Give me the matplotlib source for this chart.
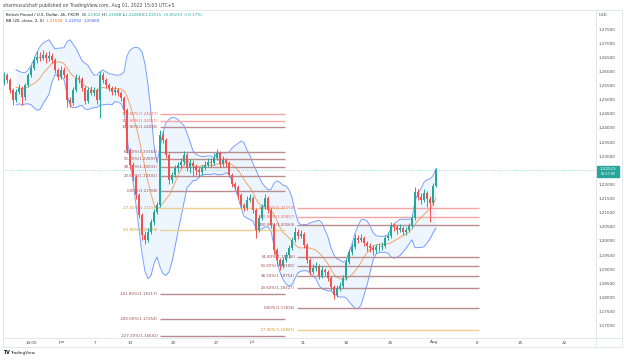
import matplotlib.pyplot as plt
import numpy as np
import pandas as pd
from matplotlib.patches import Rectangle

# GBPUSD 4h candles (each drawn candle covers two 4h bars)
closes = [1.2587, 1.2570, 1.2534, 1.2499, 1.2527, 1.2541, 1.2509, 1.2552, 1.2587, 1.2612,
          1.2640, 1.2651, 1.2647, 1.2658, 1.2647, 1.2654, 1.2640, 1.2605, 1.2580, 1.2605,
          1.2587, 1.2499, 1.2488, 1.2534, 1.2577, 1.2573, 1.2541, 1.2495, 1.2534, 1.2524,
          1.2534, 1.2499, 1.2587, 1.2570, 1.2552, 1.2541, 1.2527, 1.2534, 1.2524, 1.2506,
          1.2463, 1.2322, 1.2269, 1.2226, 1.2163, 1.2092, 1.2021, 1.2003, 1.2032, 1.2067,
          1.2102, 1.2127, 1.2375, 1.2357, 1.2304, 1.2216, 1.2233, 1.2258, 1.2269, 1.2279,
          1.2304, 1.2258, 1.2276, 1.2265, 1.2251, 1.2244, 1.2258, 1.2269, 1.2279, 1.2276,
          1.2294, 1.2311, 1.2272, 1.2286, 1.2276, 1.2233, 1.2202, 1.2191, 1.2163, 1.2127,
          1.2117, 1.2145, 1.2152, 1.2110, 1.2039, 1.2081, 1.2120, 1.2152, 1.2110, 1.2056,
          1.1968, 1.1933, 1.1911, 1.1933, 1.1950, 1.1975, 1.2003, 1.2032, 1.2018, 1.2025,
          1.1986, 1.1933, 1.1890, 1.1904, 1.1911, 1.1876, 1.1897, 1.1890, 1.1869, 1.1837,
          1.1809, 1.1834, 1.1841, 1.1869, 1.1926, 1.1961, 1.1979, 1.2010, 1.2003, 1.2010,
          1.1993, 1.1982, 1.1975, 1.1968, 1.1979, 1.1979, 1.1982, 1.2010, 1.2018, 1.2056,
          1.2049, 1.2039, 1.2046, 1.2032, 1.2039, 1.2053, 1.2081, 1.2173, 1.2156, 1.2145,
          1.2170, 1.2150, 1.2135, 1.2195, 1.2252]
highs = [1.2598, 1.2596, 1.2578, 1.2540, 1.2538, 1.2556, 1.2548, 1.2560, 1.2596, 1.2622,
         1.2655, 1.2672, 1.2668, 1.2676, 1.2668, 1.2672, 1.2665, 1.2648, 1.2612, 1.2618,
         1.2615, 1.2594, 1.2510, 1.2545, 1.2590, 1.2588, 1.2580, 1.2548, 1.2545, 1.2548,
         1.2545, 1.2540, 1.2600, 1.2598, 1.2578, 1.2560, 1.2550, 1.2548, 1.2542, 1.2530,
         1.2512, 1.2470, 1.2330, 1.2280, 1.2235, 1.2170, 1.2100, 1.2035, 1.2045, 1.2078,
         1.2112, 1.2138, 1.2393, 1.2390, 1.2365, 1.2310, 1.2245, 1.2268, 1.2280, 1.2292,
         1.2318, 1.2312, 1.2290, 1.2285, 1.2272, 1.2262, 1.2270, 1.2282, 1.2295, 1.2292,
         1.2310, 1.2325, 1.2318, 1.2300, 1.2295, 1.2282, 1.2240, 1.2210, 1.2198, 1.2170,
         1.2135, 1.2158, 1.2165, 1.2160, 1.2118, 1.2092, 1.2130, 1.2165, 1.2160, 1.2118,
         1.2062, 1.1975, 1.1940, 1.1945, 1.1962, 1.1985, 1.2015, 1.2050, 1.2042, 1.2038,
         1.2032, 1.1992, 1.1940, 1.1918, 1.1925, 1.1918, 1.1910, 1.1905, 1.1898, 1.1875,
         1.1845, 1.1845, 1.1855, 1.1880, 1.1935, 1.1972, 1.1992, 1.2025, 1.2022, 1.2025,
         1.2018, 1.2000, 1.1992, 1.1985, 1.1990, 1.1992, 1.1995, 1.2022, 1.2032, 1.2068,
         1.2065, 1.2055, 1.2060, 1.2052, 1.2050, 1.2065, 1.2092, 1.2191, 1.2185, 1.2170,
         1.2185, 1.2178, 1.2160, 1.2205, 1.2259]
lows = [1.2552, 1.2560, 1.2522, 1.2481, 1.2490, 1.2519, 1.2481, 1.2500, 1.2545, 1.2580,
        1.2605, 1.2630, 1.2636, 1.2640, 1.2630, 1.2638, 1.2630, 1.2595, 1.2570, 1.2572,
        1.2578, 1.2474, 1.2474, 1.2480, 1.2528, 1.2560, 1.2530, 1.2485, 1.2488, 1.2515,
        1.2512, 1.2485, 1.2435, 1.2560, 1.2540, 1.2530, 1.2515, 1.2518, 1.2512, 1.2495,
        1.2452, 1.2310, 1.2255, 1.2212, 1.2150, 1.2080, 1.2005, 1.1990, 1.1995, 1.2025,
        1.2055, 1.2095, 1.2120, 1.2345, 1.2295, 1.2200, 1.2205, 1.2225, 1.2245, 1.2258,
        1.2270, 1.2248, 1.2240, 1.2230, 1.2235, 1.2225, 1.2235, 1.2250, 1.2260, 1.2262,
        1.2268, 1.2285, 1.2262, 1.2265, 1.2262, 1.2225, 1.2192, 1.2180, 1.2150, 1.2115,
        1.2105, 1.2110, 1.2138, 1.2098, 1.2010, 1.2030, 1.2075, 1.2112, 1.2100, 1.2045,
        1.1955, 1.1920, 1.1898, 1.1905, 1.1925, 1.1940, 1.1968, 1.1995, 1.2008, 1.2010,
        1.1975, 1.1922, 1.1878, 1.1882, 1.1895, 1.1865, 1.1868, 1.1878, 1.1858, 1.1825,
        1.1795, 1.1800, 1.1822, 1.1832, 1.1862, 1.1918, 1.1950, 1.1972, 1.1992, 1.1995,
        1.1982, 1.1965, 1.1962, 1.1950, 1.1958, 1.1965, 1.1968, 1.1975, 1.2002, 1.2010,
        1.2035, 1.2025, 1.2030, 1.2020, 1.2022, 1.2030, 1.2045, 1.2075, 1.2145, 1.2130,
        1.2138, 1.2120, 1.2067, 1.2128, 1.2190]
first_open = 1.2560
last_price = 1.22515

# Fibonacci retracement tools drawn on the chart
fib_a_levels = [1.2, 1.1, 1.0, 0.618, 0.5, 0.382, 0.236, 0.0, -0.27, -0.618, -1.618, -2.0, -2.272]
fib_a_zero, fib_a_full = 1.217685, 1.240255
fib_b_levels = [1.2, 1.1, 1.0, 0.618, 0.5, 0.382, 0.236, 0.0, -0.27]
fib_b_zero, fib_b_full = 1.17636, 1.20564

time_labels = ['14:00', 'Jun', '7', '13', '20', '27', 'Jul', '11', '18', '25', 'Aug', '8', '15', '22']
time_pos = [9.0, 19.0, 30.3, 42.0, 56.5, 70.7, 82.7, 99.7, 114.2, 128.7, 143.2, 157.7, 172.2, 186.7]
price_ticks = np.round(np.arange(1.17, 1.2751, 0.005), 3)

UP, DOWN = '#26a69a', '#ef5350'
W, H = 624, 360


def fx(px):
    return px / W


def fy(py):
    return 1 - py / H


fig = plt.figure(figsize=(6.24, 3.6), dpi=100)
ax = fig.add_axes([fx(3), fy(338), fx(596) - fx(3), fy(10) - fy(338)])

idx = np.arange(len(closes))
c = np.array(closes)
o = np.array([first_open] + closes[:-1])
cols = np.where(c >= o, UP, DOWN)

# bollinger bands (20 bars of 4h -> 10 drawn candles)
s = pd.Series(closes)
basis = s.rolling(10, min_periods=5).mean()
dev = s.rolling(10, min_periods=5).std(ddof=0)
upper = basis + 2 * dev
lower = basis - 2 * dev
ax.fill_between(idx, lower, upper, color='#2196f3', alpha=0.08, lw=0, zorder=1)
ax.plot(idx, upper, color='#2962ff', lw=0.7, alpha=0.6, zorder=2)
ax.plot(idx, lower, color='#2962ff', lw=0.7, alpha=0.6, zorder=2)
ax.plot(idx, basis, color='#ff6d00', lw=0.7, alpha=0.6, zorder=2)


# fib lines
def fib_color(lv):
    if lv > 1.0:
        return '#f6a5a3', '#f0605e'
    if -1 < lv < 0:
        return '#eccf8f', '#cc9122'
    return '#b98d8f', '#98474a'


def draw_fib(levels, zero, full, x0, x1):
    for lv in levels:
        price = zero + lv * (full - zero)
        lc, tc = fib_color(lv)
        ax.plot([x0, x1], [price, price], color=lc, lw=1.0, zorder=3, solid_capstyle='butt')
        ax.text(x0 - 0.6, price, f'{lv * 100:.2f}%({price:.5f})', color=tc,
                fontsize=2.8, ha='right', va='center', zorder=4)


draw_fib(fib_a_levels, fib_a_zero, fib_a_full, 52.0, 93.7)
draw_fib(fib_b_levels, fib_b_zero, fib_b_full, 97.7, 158.3)

# candles
ax.vlines(idx, lows, highs, color=cols, lw=0.7, zorder=5)
ax.bar(idx, c - o, bottom=o, width=0.75, color=cols, lw=0, zorder=6)

ax.axhline(last_price, color=UP, lw=0.6, ls=(0, (1, 1.5)), alpha=0.5, zorder=2)

ax.set_xlim(-1 / 3, 592 / 3)
ax.set_ylim(1.165665, 1.281723)
ax.yaxis.tick_right()
ax.set_yticks(price_ticks)
ax.set_yticklabels([f'{p:.5f}' for p in price_ticks])
ax.set_xticks(time_pos)
ax.set_xticklabels(time_labels)
ax.tick_params(axis='y', length=0, pad=1.6, labelsize=3.0, labelcolor='#4a4a4a')
ax.tick_params(axis='x', length=0, pad=1.8, labelsize=3.0, labelcolor='#4a4a4a')
for sp in ax.spines.values():
    sp.set_visible(False)

# frame of the chart pane
frame = '#e0e3eb'
fig.add_artist(Rectangle((fx(3), fy(347)), fx(622) - fx(3), fy(10) - fy(347),
                         fill=False, ec=frame, lw=0.6, transform=fig.transFigure))
fig.add_artist(plt.Line2D([fx(596), fx(596)], [fy(10), fy(347)], color=frame, lw=0.6))
fig.add_artist(plt.Line2D([fx(3), fx(622)], [fy(338), fy(338)], color=frame, lw=0.6))

# last price tag
fig.add_artist(Rectangle((fx(597), fy(177)), fx(619) - fx(597), fy(166) - fy(177),
                         color=UP, transform=fig.transFigure))
fig.text(fx(608), fy(169.5), f'{last_price:.5f}', color='white', fontsize=3.0, ha='center', va='center')
fig.text(fx(608), fy(174.2), '01:57:00', color='white', fontsize=2.4, ha='center', va='center')
fig.text(fx(599), fy(15), 'USD', color='#4a4a4a', fontsize=3.0, ha='left', va='center')

fig.text(fx(3), fy(5), 'sharmusulzhafi published on TradingView.com, Aug 01, 2022 15:03 UTC+5',
         color='#4a4a4a', fontsize=3.3, ha='left', va='center')


def chain(parts, x, y, size):
    t = fig.text(fx(x), fy(y), parts[0][0], color=parts[0][1], fontsize=size, ha='left', va='center')
    for txt, col in parts[1:]:
        t = ax.annotate(txt, xy=(1, 0), xycoords=t, color=col, fontsize=size,
                        ha='left', va='bottom', annotation_clip=False)


dark = '#131722'
chain([('British Pound / U.S. Dollar, 4h, FXCM  ', dark), ('O', dark), ('1.22302 ', UP),
       ('H', dark), ('1.22588 ', UP), ('L', dark), ('1.22268 ', UP), ('C', dark),
       ('1.22515 +0.00213 (+0.17%)', UP)], 6, 15, 2.85)
chain([('BB (20, close, 2, 0)  ', dark), ('1.21530  ', '#ff6d00'), ('1.22592  ', '#2962ff'),
       ('1.20469', '#2962ff')], 6, 21, 2.85)

fig.text(fx(3), fy(353), 'TV', color=dark, fontsize=3.4, fontweight='bold', ha='left', va='center')
fig.text(fx(10), fy(353), 'TradingView', color=dark, fontsize=3.0, ha='left', va='center')

fig.savefig('out.png', dpi=100)
